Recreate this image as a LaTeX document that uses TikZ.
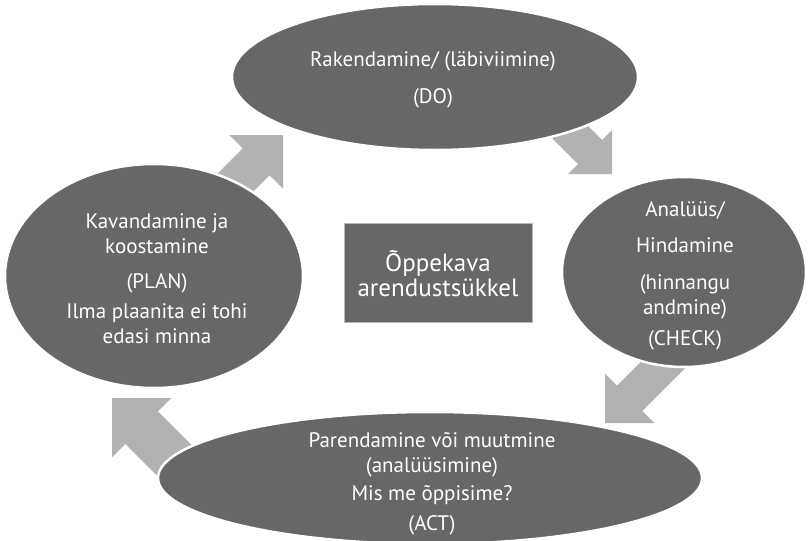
\documentclass[tikz,border=0pt]{standalone}
\usepackage{fontspec}
\setmainfont{PT Sans}
\usetikzlibrary{shapes.geometric}
\definecolor{phasegray}{RGB}{103,103,103}
\definecolor{arrowgray}{RGB}{178,178,178}
\tikzstyle{phase} = [ellipse, fill=phasegray, draw=white, line width=2.5pt, inner sep=0pt]
\tikzstyle{centerbox} = [rectangle, fill=phasegray, draw=gray!55, line width=1pt, inner sep=0pt]
\tikzstyle{phasetext} = [text=white, align=center, font=\fontsize{21}{25}\selectfont]
% tip, angle, head, body half width, length
\newcommand{\blockarrow}[5]{%
  \fill[arrowgray, shift={#1}, rotate=#2] (0,0) -- (-#3,#3) -- (-#3,#4) -- (-#5,#4)
    -- (-#5,-#4) -- (-#3,-#4) -- (-#3,-#3) -- cycle;}

\begin{document}
\begin{tikzpicture}[x=1pt, y=-1pt]
            \useasboundingbox (0,0) rectangle (809,541);

            % arrows first, the ellipses hide their tails
            \coordinate (planTip) at (283,135);
            \coordinate (doTip) at (612,174);
            \coordinate (checkTip) at (605,423);
            \coordinate (actTip) at (112,398);
            \blockarrow{(planTip)}{45}{38}{19}{85}
            \blockarrow{(doTip)}{-45}{31}{17}{90}
            \blockarrow{(checkTip)}{-135}{35}{18}{110}
            \blockarrow{(actTip)}{135}{42}{23}{110}

            \node[phase, minimum width=406, minimum height=146] (do) at (435,77) {};
            \node[phase, minimum width=298, minimum height=224] (plan) at (154,276) {};
            \node[phase, minimum width=244, minimum height=190] (check) at (684,272) {};
            \node[phase, minimum width=544, minimum height=132] (act) at (430,478) {};
            \node[centerbox, minimum width=188, minimum height=99] (cycle) at (438,272.5) {};

            \node[phasetext] (doText) at (433,80) {Rakendamine/ (läbiviimine)\\[12pt](DO)};
            \node[phasetext] (planText) at (157,279) {Kavandamine ja\\koostamine\\[10pt](PLAN)\\[5pt]Ilma plaanita ei tohi\\edasi minna};
            \node[phasetext] (checkText) at (685,276) {Analüüs/\\[11pt]Hindamine\\[12pt](hinnangu\\andmine)\\[6pt](CHECK)};
            \node[phasetext] (actText) at (432,484) {Parendamine või muutmine\\(analüüsimine)\\[3pt]Mis me õppisime?\\[5pt](ACT)};
            \node[phasetext, font=\fontsize{25}{25}\selectfont] (cycleText) at (438,274) {Õppekava\\arendustsükkel};
\end{tikzpicture}
\end{document}
